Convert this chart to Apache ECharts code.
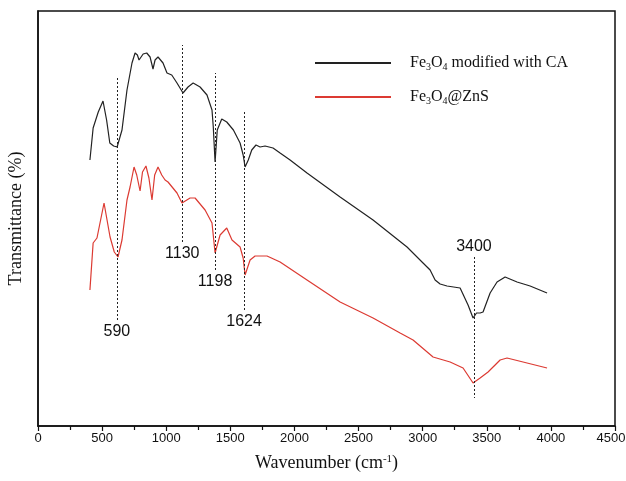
<!DOCTYPE html>
<html>
<head>
<meta charset="utf-8">
<script src="https://cdn.jsdelivr.net/npm/echarts@6/dist/echarts.min.js"></script>
<style>html,body{margin:0;padding:0;background:#fff;}#c{width:626px;height:481px;}</style>
</head>
<body>
<div id="c"></div>
<script>
// Wavenumber (cm-1) and transmittance (arbitrary units)
var blackWn = [405,430,470,507,535,560,590,617,655,694,733,757,775,788,820,848,874,897,913,936,975,1006,1043,1084,1131,1170,1210,1264,1318,1357,1367,1381,1398,1433,1472,1524,1576,1600,1615,1640,1667,1700,1732,1771,1833,1888,1966,2098,2356,2613,2878,3003,3058,3097,3136,3190,3292,3354,3393,3420,3448,3471,3526,3580,3643,3736,3838,3970];
var blackT  = [266,298,314,325,306,283,280,279,296,336,363,373,371,366,372,373,369,357,366,369,363,353,351,343,333,339,343,339,331,316,299,264,296,307,304,296,283,271,259,266,276,281,279,280,278,273,266,253,229,206,179,163,156,146,142,140,138,121,108,113,113,114,133,144,149,144,140,133];
var redWn = [405,430,460,515,562,595,624,655,694,718,749,770,796,815,842,865,889,910,936,965,991,1014,1084,1123,1186,1225,1303,1357,1381,1420,1472,1513,1576,1600,1615,1654,1693,1786,1888,2098,2356,2613,2824,2925,3081,3214,3315,3393,3448,3510,3604,3658,3814,3970];
var redT  = [136,183,188,223,189,174,169,186,226,239,259,251,235,254,260,248,226,251,259,251,246,244,233,223,228,228,216,203,173,191,198,186,179,168,151,166,170,170,164,146,124,108,93,86,69,64,58,43,48,54,66,68,63,58];

var seriesNames = ['Fe{s|3}O{s|4} modified with CA', 'Fe{s|3}O{s|4}@ZnS'];
var legendKeys = ['Fe3O4 modified with CA', 'Fe3O4@ZnS'];

// Peak annotation lines: position, lower end, upper end, label text, label at bottom?
var peakPos    = [615, 1125, 1381, 1607, 3400];
var peakLow    = [106, 184, 156, 116, 28];
var peakHigh   = [349, 381, 353, 315, 169];
var peakLabels = ['590', '1130', '1198', '1624', '3400'];
var peakLabelBelow = [true, true, true, true, false];

var xTicks = [0,500,1000,1500,2000,2500,3000,3500,4000,4500];

function zip(a, b) { return a.map(function (v, i) { return [v, b[i]]; }); }

var markData = peakPos.map(function (x, i) {
  var below = peakLabelBelow[i];
  var a = {coord: [x, below ? peakLow[i] : peakHigh[i]]};
  var b = {coord: [x, below ? peakHigh[i] : peakLow[i]]};
  a.label = {show: true, position: 'start', formatter: peakLabels[i], distance: below ? 4 : 2};
  return [a, b];
});

var chart = echarts.init(document.getElementById('c'), null, {renderer: 'canvas'});
chart.setOption({
  animation: false,
  backgroundColor: '#fff',
  grid: {left: 38, right: 11, top: 11, bottom: 55, show: true, borderColor: '#111', borderWidth: 1.5, containLabel: false, outerBoundsMode: 'none'},
  legend: {
    orient: 'vertical', left: 310, top: 50, itemGap: 17,
    icon: 'rect', itemWidth: 76, itemHeight: 2,
    data: legendKeys,
    formatter: function (n) { return seriesNames[legendKeys.indexOf(n)]; },
    textStyle: {
      fontFamily: 'Liberation Serif', fontSize: 16, color: '#111', padding: [0, 0, 0, 14],
      rich: {s: {fontFamily: 'Liberation Serif', fontSize: 10, padding: [8, 0, 0, 0], color: '#111'}}
    }
  },
  xAxis: {
    type: 'value', min: 0, max: 4500, interval: 500,
    name: 'Wavenumber (cm{sup|-1})', nameLocation: 'middle', nameGap: 28,
    nameTextStyle: {fontFamily: 'Liberation Serif', fontSize: 18, color: '#111',
      rich: {sup: {fontFamily: 'Liberation Serif', fontSize: 11, padding: [0, 0, 8, 0], color: '#111'}}},
    axisLine: {show: true, lineStyle: {color: '#111', width: 1.5}},
    axisTick: {show: true, inside: false, length: 5, lineStyle: {color: '#111', width: 1.2}},
    minorTick: {show: true, splitNumber: 2, length: 4, lineStyle: {color: '#111', width: 1.2}},
    axisLabel: {fontFamily: 'Liberation Sans', fontSize: 13, color: '#111', margin: 6,
      rich: {e: {fontFamily: 'Liberation Sans', fontSize: 13, color: '#111', padding: [0, 8, 0, 0]}},
      formatter: function (v) {
        if (xTicks.indexOf(v) < 0) return '';
        return v === xTicks[xTicks.length - 1] ? '{e|' + v + '}' : String(v);
      }},
    splitLine: {show: false}
  },
  yAxis: {
    type: 'value', min: 0, max: 415,
    name: 'Transmittance (%)', nameLocation: 'middle', nameGap: 13,
    nameTextStyle: {fontFamily: 'Liberation Serif', fontSize: 18, color: '#111'},
    axisLine: {show: true, lineStyle: {color: '#111', width: 1.5}},
    axisTick: {show: false}, axisLabel: {show: false}, splitLine: {show: false}
  },
  series: [
    {
      name: legendKeys[0], type: 'line', data: zip(blackWn, blackT), showSymbol: false, symbol: 'none',
      lineStyle: {color: '#222', width: 1.2}, itemStyle: {color: '#222'}, z: 3,
      markLine: {
        silent: true, symbol: ['none', 'none'], animation: false,
        lineStyle: {color: '#222', type: [2, 2], width: 1},
        label: {fontFamily: 'Liberation Sans', fontSize: 16, color: '#111'},
        data: markData
      }
    },
    {
      name: legendKeys[1], type: 'line', data: zip(redWn, redT), showSymbol: false, symbol: 'none',
      lineStyle: {color: '#dc3a32', width: 1.2}, itemStyle: {color: '#dc3a32'}, z: 3
    }
  ]
});
</script>
</body>
</html>
